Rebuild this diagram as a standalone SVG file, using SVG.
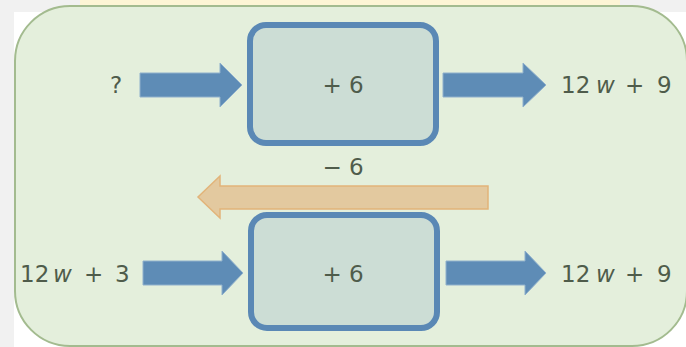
<svg xmlns="http://www.w3.org/2000/svg" width="686" height="347" viewBox="0 0 686 347">
<style>
.t{font-family:"DejaVu Sans","Liberation Sans",sans-serif;font-size:23px;fill:#4f5c4b}
.i{font-style:italic}
.box{fill:#ccddd5;stroke:#5a88b5;stroke-width:6}
.ba{fill:#5e8cb6;stroke:#8fb0cc;stroke-width:1}
.oa{fill:#e3c99f;stroke:#e2b47a;stroke-width:1.5}
</style>
<rect x="0" y="0" width="686" height="347" fill="#f1f1f1"/>
<rect x="14" y="12" width="672" height="335" fill="#ffffff"/>
<rect x="80" y="0" width="540" height="7" fill="#fdf5d5"/>
<rect x="15" y="6" width="672" height="340" rx="55" ry="55" fill="#e4efdc" stroke="#a3bb8f" stroke-width="2"/>
<g id="connectors">
<polygon class="ba" points="140,73 220,73 220,63 242,85 220,107 220,97 140,97"/>
<polygon class="ba" points="443,73 523,73 523,63 546,85 523,107 523,97 443,97"/>
<polygon class="ba" points="143,261 222,261 222,251 243,273 222,295 222,285 143,285"/>
<polygon class="ba" points="446,261 525,261 525,251 546,273 525,295 525,285 446,285"/>
<polygon class="oa" points="488,186 220,186 220,176 198,197 220,218 220,209 488,209"/>
</g>
<g id="box-top">
<rect class="box" x="250" y="25" width="186" height="118" rx="16"/>
<text class="t" x="343" y="93" text-anchor="middle">+ 6</text>
</g>
<g id="box-bottom">
<rect class="box" x="251" y="215" width="186" height="113" rx="16"/>
<text class="t" x="343" y="282" text-anchor="middle">+ 6</text>
</g>
<g id="in-top"><text class="t" x="116" y="93" text-anchor="middle">?</text></g>
<g id="out-top"><text class="t" x="561" y="93">12<tspan class="i" x="596">w</tspan><tspan x="625">+</tspan><tspan x="657">9</tspan></text></g>
<g id="label-minus"><text class="t" x="343" y="175" text-anchor="middle">− 6</text></g>
<g id="in-bottom"><text class="t" x="20" y="282">12<tspan class="i" x="53">w</tspan><tspan x="84">+</tspan><tspan x="115">3</tspan></text></g>
<g id="out-bottom"><text class="t" x="561" y="282">12<tspan class="i" x="596">w</tspan><tspan x="625">+</tspan><tspan x="657">9</tspan></text></g>
</svg>
